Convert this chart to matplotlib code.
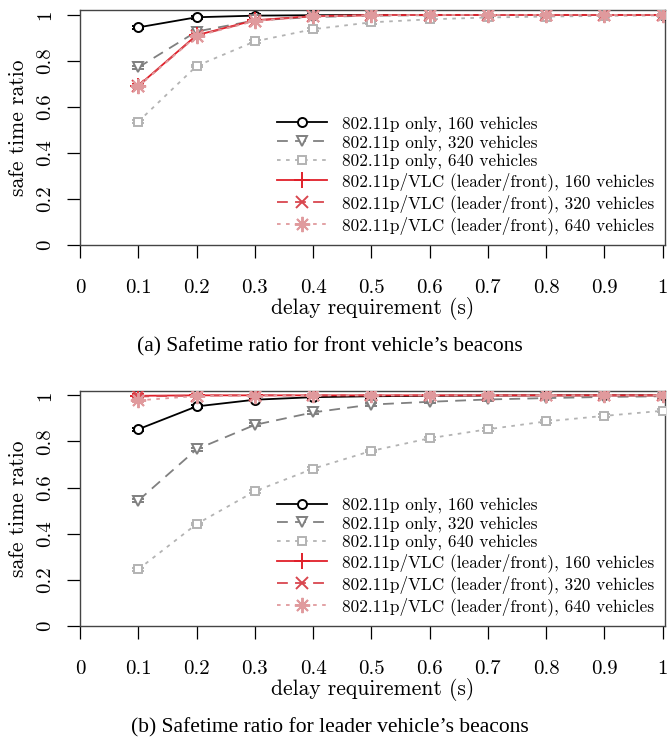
import matplotlib
matplotlib.use("Agg")
import matplotlib.pyplot as plt
from matplotlib.lines import Line2D

plt.rcParams['font.family'] = ['cmr10', 'DejaVu Serif']
plt.rcParams['axes.formatter.use_mathtext'] = True
plt.rcParams['mathtext.fontset'] = 'cm'

delay = [0.1, 0.2, 0.3, 0.4, 0.5, 0.6, 0.7, 0.8, 0.9, 1.0]

labels = ["802.11p only, 160 vehicles",
          "802.11p only, 320 vehicles",
          "802.11p only, 640 vehicles",
          "802.11p/VLC (leader/front), 160 vehicles",
          "802.11p/VLC (leader/front), 320 vehicles",
          "802.11p/VLC (leader/front), 640 vehicles"]

# (a) front vehicle's beacons
front_p160 = [0.946, 0.990, 0.997, 0.999, 1.0, 1.0, 1.0, 1.0, 1.0, 1.0]
front_p320 = [0.772, 0.928, 0.976, 0.991, 0.997, 0.999, 1.0, 1.0, 1.0, 1.0]
front_p640 = [0.536, 0.778, 0.885, 0.938, 0.968, 0.981, 0.989, 0.993, 0.996, 0.998]
front_v160 = [0.692, 0.912, 0.977, 0.995, 0.999, 1.0, 1.0, 1.0, 1.0, 1.0]
front_v320 = [0.690, 0.910, 0.975, 0.994, 0.999, 1.0, 1.0, 1.0, 1.0, 1.0]
front_v640 = [0.690, 0.908, 0.974, 0.994, 0.998, 1.0, 1.0, 1.0, 1.0, 1.0]

# (b) leader vehicle's beacons
leader_p160 = [0.853, 0.952, 0.981, 0.992, 0.996, 0.998, 0.999, 1.0, 1.0, 1.0]
leader_p320 = [0.544, 0.766, 0.872, 0.926, 0.960, 0.972, 0.982, 0.988, 0.993, 0.996]
leader_p640 = [0.246, 0.442, 0.584, 0.682, 0.759, 0.814, 0.853, 0.887, 0.911, 0.933]
leader_v160 = [0.998, 1.0, 1.0, 1.0, 1.0, 1.0, 1.0, 1.0, 1.0, 1.0]
leader_v320 = [0.995, 0.999, 1.0, 1.0, 1.0, 1.0, 1.0, 1.0, 1.0, 1.0]
leader_v640 = [0.978, 0.997, 0.999, 1.0, 1.0, 1.0, 1.0, 1.0, 1.0, 1.0]

colors = ["black", "#808080", "#b3b3b3", "#e0202a", "#d9474f", "#e09a9d"]
styles = ["-", (0, (6, 4)), (0, (2, 3)), "-", (0, (6, 4)), (0, (2, 3))]
markers = ["o", "v", "s", "+", "x", (8, 2, 0)]
msizes = [6.5, 7, 6, 11, 8, 11]


def draw(ax, series):
    handles = []
    for i, ys in enumerate(series):
        kw = dict(color=colors[i], linestyle=styles[i], linewidth=1.3,
                  marker=markers[i], markersize=msizes[i],
                  markerfacecolor="white" if i < 3 else colors[i],
                  markeredgewidth=1.4)
        ax.errorbar(delay, ys, yerr=0.006, capsize=4.5, capthick=1.2,
                    elinewidth=1.0, zorder=3 + i, **kw)
        handles.append(Line2D([], [], label=labels[i], **kw))
    ax.set_xlim(0, 1.004)
    ax.set_ylim(0, 1.02)
    ax.set_xticks([0, 0.1, 0.2, 0.3, 0.4, 0.5, 0.6, 0.7, 0.8, 0.9, 1])
    ax.set_xticklabels(["0", "0.1", "0.2", "0.3", "0.4", "0.5", "0.6", "0.7", "0.8", "0.9", "1"])
    ax.set_yticks([0, 0.2, 0.4, 0.6, 0.8, 1])
    ax.set_yticklabels(["0", "0.2", "0.4", "0.6", "0.8", "1"], rotation=90, va="center")
    ax.tick_params(direction="out", length=9.5, width=0.9, labelsize=15)
    ax.tick_params(axis="x", pad=15)
    ax.tick_params(axis="y", pad=9)
    for s in ax.spines.values():
        s.set_color("#444444")
        s.set_linewidth(1.0)
    ax.set_xlabel("delay requirement (s)", fontsize=15.5, labelpad=0)
    ax.set_ylabel("safe time ratio", fontsize=15.5, labelpad=6)
    ax.legend(handles=handles, loc="lower right", bbox_to_anchor=(1.0, 0.0),
              frameon=False, fontsize=12.4, handlelength=2.9, labelspacing=0.17,
              handletextpad=0.9, borderaxespad=0.2)


fig = plt.figure(figsize=(6.67, 7.4), dpi=100)

ax1 = fig.add_axes([0.120, 0.669, 0.877, 0.317])
draw(ax1, [front_p160, front_p320, front_p640, front_v160, front_v320, front_v640])

ax2 = fig.add_axes([0.120, 0.154, 0.877, 0.318])
draw(ax2, [leader_p160, leader_p320, leader_p640, leader_v160, leader_v320, leader_v640])

fig.text(0.495, 0.531, "(a) Safetime ratio for front vehicle\u2019s beacons",
         ha="center", va="center", fontsize=15.5, family="Liberation Serif")
fig.text(0.495, 0.016, "(b) Safetime ratio for leader vehicle\u2019s beacons",
         ha="center", va="center", fontsize=15.5, family="Liberation Serif")

fig.savefig("out.png", dpi=100)
